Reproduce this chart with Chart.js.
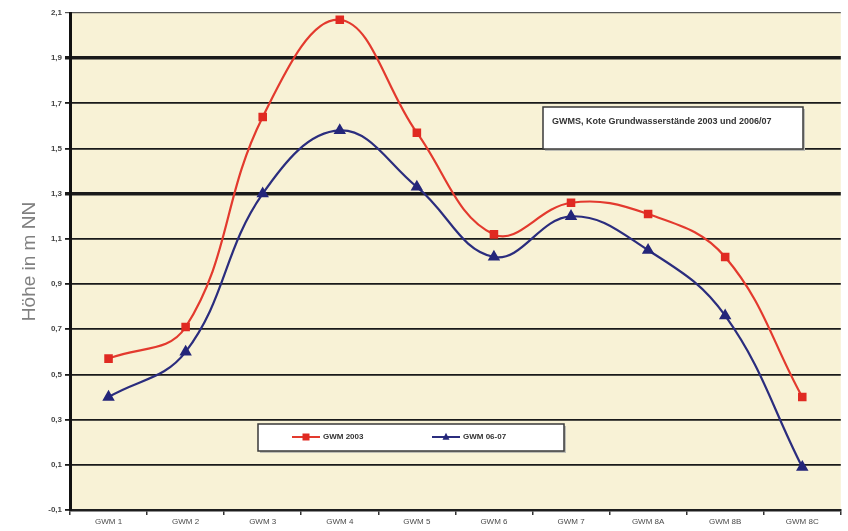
<!DOCTYPE html>
<html>
<head>
<meta charset="utf-8">
<script src="https://cdn.jsdelivr.net/npm/chart.js@4/dist/chart.umd.min.js"></script>
<style>
  html, body { margin: 0; padding: 0; background: #ffffff; }
  #wrap { width: 848px; height: 531px; }
</style>
</head>
<body>
<div id="wrap"><canvas id="c" width="848" height="531"></canvas></div>
<script>
// Messstellen (x categories)
const categories = ["GWM 1", "GWM 2", "GWM 3", "GWM 4", "GWM 5", "GWM 6", "GWM 7", "GWM 8A", "GWM 8B", "GWM 8C"];
// Wasserstand in m NN
const values2003 = [0.57, 0.71, 1.64, 2.07, 1.57, 1.12, 1.26, 1.21, 1.02, 0.40];
const values0607 = [0.40, 0.60, 1.30, 1.58, 1.33, 1.02, 1.20, 1.05, 0.76, 0.09];
const seriesNames = ["GWM 2003", "GWM 06-07"];
// y axis range and emphasised levels
const yMin = -0.1, yMax = 2.1, yStep = 0.2;
const boldLevels = [1.9, 1.3];
const noteText = "GWMS, Kote Grundwasserstände 2003 und 2006/07";

const near = (a, b) => Math.abs(a - b) < 1e-6;

// cream plot background
const plotBackground = {
  id: 'plotBackground',
  beforeDraw(chart) {
    const { ctx, chartArea: a } = chart;
    ctx.save();
    ctx.fillStyle = '#f8f2d6';
    ctx.fillRect(a.left, a.top, a.right - a.left, a.bottom - a.top);
    ctx.restore();
  }
};

function drawBox(ctx, x, y, w, h) {
  ctx.fillStyle = '#bdbdb5';
  ctx.fillRect(x + 2, y + 2, w, h);
  ctx.fillStyle = '#ffffff';
  ctx.fillRect(x, y, w, h);
  ctx.strokeStyle = '#3a3a3a';
  ctx.lineWidth = 1.5;
  ctx.strokeRect(x, y, w, h);
}

function drawMarker(ctx, style, x, y, r, color) {
  ctx.fillStyle = color;
  ctx.beginPath();
  if (style === 'rect') {
    ctx.rect(x - r, y - r, 2 * r, 2 * r);
  } else {
    ctx.moveTo(x, y - r * 1.2);
    ctx.lineTo(x + r, y + r * 0.8);
    ctx.lineTo(x - r, y + r * 0.8);
    ctx.closePath();
  }
  ctx.fill();
}

// note box and legend box inside the plot
const boxes = {
  id: 'boxes',
  afterDraw(chart) {
    const { ctx } = chart;
    ctx.save();
    // note box
    drawBox(ctx, 543, 107, 260, 42);
    ctx.fillStyle = '#333333';
    ctx.font = 'bold 9px "Liberation Sans", Arial, sans-serif';
    ctx.textBaseline = 'middle';
    ctx.textAlign = 'left';
    ctx.fillText(noteText, 552, 122);

    // legend box
    drawBox(ctx, 258, 424, 306, 27);
    const items = [
      { x: 292, ds: chart.data.datasets[0] },
      { x: 432, ds: chart.data.datasets[1] }
    ];
    const ly = 437;
    items.forEach(it => {
      ctx.strokeStyle = it.ds.borderColor;
      ctx.lineWidth = 2;
      ctx.beginPath();
      ctx.moveTo(it.x, ly);
      ctx.lineTo(it.x + 28, ly);
      ctx.stroke();
      drawMarker(ctx, it.ds.pointStyle, it.x + 14, ly, 3.5, it.ds.pointBackgroundColor);
      ctx.fillStyle = '#333333';
      ctx.font = 'bold 8px "Liberation Sans", Arial, sans-serif';
      ctx.textAlign = 'left';
      ctx.textBaseline = 'middle';
      ctx.fillText(it.ds.label, it.x + 31, ly);
    });
    ctx.restore();
  }
};

new Chart(document.getElementById('c'), {
  type: 'line',
  data: {
    labels: categories,
    datasets: [
      {
        label: seriesNames[0],
        data: values2003,
        borderColor: '#e33a2e',
        backgroundColor: '#e33a2e',
        pointBackgroundColor: '#e02a22',
        pointBorderColor: '#e02a22',
        pointStyle: 'rect',
        pointRadius: 4.5,
        borderWidth: 2.2,
        tension: 0.4,
        fill: false
      },
      {
        label: seriesNames[1],
        data: values0607,
        borderColor: '#2b2d7e',
        backgroundColor: '#2b2d7e',
        pointBackgroundColor: '#24267a',
        pointBorderColor: '#24267a',
        pointStyle: 'triangle',
        pointRadius: 5,
        borderWidth: 2.2,
        tension: 0.4,
        fill: false
      }
    ]
  },
  options: {
    responsive: false,
    devicePixelRatio: 1,
    animation: false,
    layout: { padding: { top: 13, right: 4, left: 0, bottom: 0 } },
    plugins: {
      legend: { display: false },
      tooltip: { enabled: false }
    },
    scales: {
      x: {
        offset: true,
        afterFit(scale) { scale.height = 21; },
        grid: {
          display: true,
          drawOnChartArea: false,
          drawTicks: true,
          tickLength: 5,
          offset: true,
          color: '#333333',
          lineWidth: 1.5
        },
        border: { display: true, color: '#1e1e1e', width: 2.5 },
        ticks: {
          autoSkip: false,
          maxRotation: 0,
          padding: 2,
          color: '#4a4a4a',
          font: { family: '"Liberation Sans", Arial, sans-serif', size: 8 }
        }
      },
      y: {
        min: yMin,
        max: yMax,
        afterFit(scale) { scale.width = 70; },
        afterBuildTicks(scale) {
          const t = [];
          for (let i = 0; i <= Math.round((yMax - yMin) / yStep); i++) {
            t.push({ value: Math.round((yMin + i * yStep) * 10) / 10 });
          }
          scale.ticks = t;
        },
        grid: {
          drawTicks: true,
          tickLength: 5,
          color: ctx => near(ctx.tick.value, yMax) ? '#555555' : '#1a1a1a',
          lineWidth: ctx => {
            const v = ctx.tick.value;
            if (boldLevels.some(b => near(v, b))) return 3.5;
            if (near(v, yMax)) return 1.2;
            return 1.8;
          }
        },
        border: { display: true, color: '#111111', width: 3 },
        ticks: {
          padding: 3,
          color: '#444444',
          font: { family: '"Liberation Sans", Arial, sans-serif', size: 8, weight: 'bold' },
          callback: v => (Math.round(v * 10) / 10).toFixed(1).replace('.', ',')
        },
        title: {
          display: true,
          text: 'Höhe in m NN',
          color: '#808080',
          padding: { top: 18, bottom: 0 },
          font: { family: '"Liberation Sans", Arial, sans-serif', size: 19 }
        }
      }
    }
  },
  plugins: [plotBackground, boxes]
});
</script>
</body>
</html>
